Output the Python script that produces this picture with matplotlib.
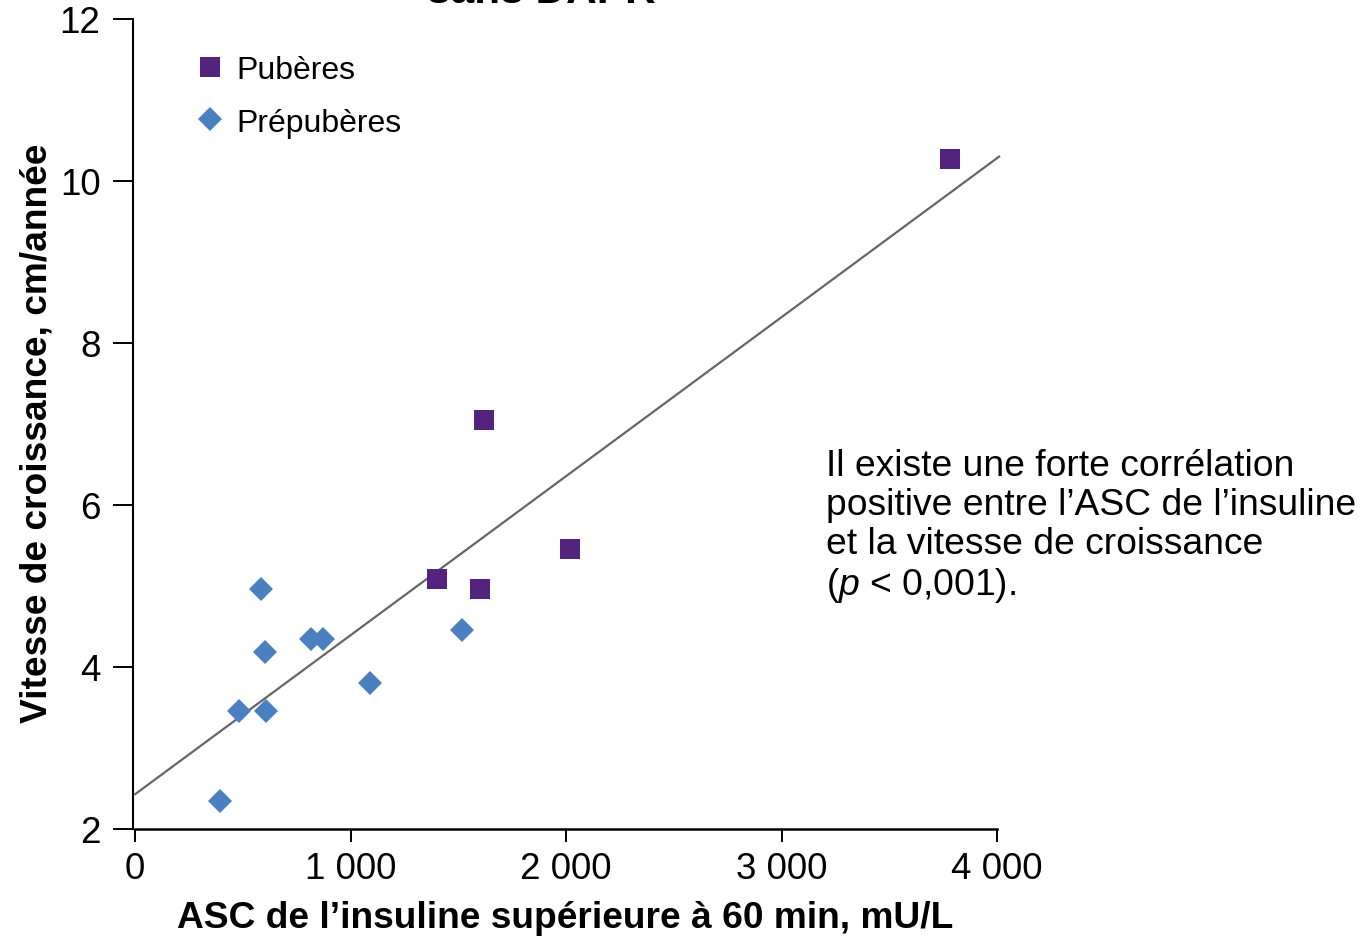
import matplotlib
matplotlib.use("Agg")
import matplotlib.pyplot as plt
from matplotlib.lines import Line2D

plt.rcParams["font.family"] = ["Liberation Sans", "DejaVu Sans"]
plt.rcParams["mathtext.fontset"] = "custom"
plt.rcParams["mathtext.rm"] = "Liberation Sans"
plt.rcParams["mathtext.it"] = "Liberation Sans:italic"

# Pubertal children: insulin AUC (mU/L) vs growth velocity (cm/year)
pub_auc = [3782, 1618, 1400, 1599, 2016]
pub_vel = [10.27, 7.05, 5.09, 4.96, 5.46]

# Prepubertal children
prepub_auc = [394, 482, 607, 584, 603, 816, 871, 1089, 1516]
prepub_vel = [2.35, 3.46, 3.46, 4.96, 4.19, 4.35, 4.35, 3.80, 4.46]

# Linear trend line
fit_intercept = 2.43
fit_slope = 0.001963
fit_x = [0, 4010]

x_ticks = [0, 1000, 2000, 3000, 4000]
x_tick_labels = ["0", "1 000", "2 000", "3 000", "4 000"]
y_ticks = [2, 4, 6, 8, 10, 12]

PURPLE = "#53237E"
BLUE = "#4A80C0"
GREY = "#666666"

fig = plt.figure(figsize=(13.71, 9.37), dpi=100)
ax = fig.add_axes([133 / 1371, 107 / 937, 864 / 1371, 810 / 937])

ax.plot(fit_x, [fit_intercept + fit_slope * v for v in fit_x],
        color=GREY, lw=1.6, clip_on=False, zorder=2)
ax.plot(prepub_auc, prepub_vel, ls="none", marker="D", ms=12.2,
        color=BLUE, mew=0, zorder=3, clip_on=False)
ax.plot(pub_auc, pub_vel, ls="none", marker="s", ms=14.4,
        color=PURPLE, mew=0, zorder=3, clip_on=False)

ax.set_xlim(-10, 4000)
ax.set_ylim(2, 12)
ax.set_xticks(x_ticks)
ax.set_xticklabels(x_tick_labels)
ax.set_yticks(y_ticks)

for side in ("top", "right"):
    ax.spines[side].set_visible(False)
ax.spines["left"].set_linewidth(1.5)
ax.spines["bottom"].set_linewidth(1.8)
ax.spines["bottom"].set_bounds(0, 4000)
ax.tick_params(axis="y", direction="out", length=14.4, width=1.4,
               labelsize=26.5, pad=9)
ax.tick_params(axis="x", direction="out", length=9.5, width=1.4,
               labelsize=26.5, pad=6)

ax.set_xlabel("ASC de l\u2019insuline supérieure à 60 min, mU/L",
              fontsize=26.7, fontweight="bold")
ax.xaxis.set_label_coords(0.5, -0.088)
ax.set_ylabel("Vitesse de croissance, cm/année",
              fontsize=26.7, fontweight="bold")
ax.yaxis.set_label_coords(-0.0914, 0.4895)

handles = [
    Line2D([], [], ls="none", marker="s", ms=14.4, color=PURPLE, mew=0),
    Line2D([], [], ls="none", marker="D", ms=12.2, color=BLUE, mew=0),
]
ax.legend(handles, ["Pubères", "Prépubères"], loc="upper left",
          bbox_to_anchor=(0.059, 0.971), frameon=False, fontsize=23,
          handlelength=0.8, handletextpad=0.45, labelspacing=0.7,
          borderaxespad=0)

ax.text(826 / 1371, 1 - 595 / 937,
        "Il existe une forte corrélation\n"
        "positive entre l\u2019ASC de l\u2019insuline\n"
        "et la vitesse de croissance\n"
        "($\\it{p}$ < 0,001).",
        transform=fig.transFigure, fontsize=26.8, va="baseline",
        ha="left", linespacing=1.15)

fig.text(541 / 1371, 1 - 3 / 937, "sans DAPR", fontsize=30.5,
         fontweight="bold", ha="center", va="baseline")

fig.savefig("out.png", dpi=100, facecolor="white")
